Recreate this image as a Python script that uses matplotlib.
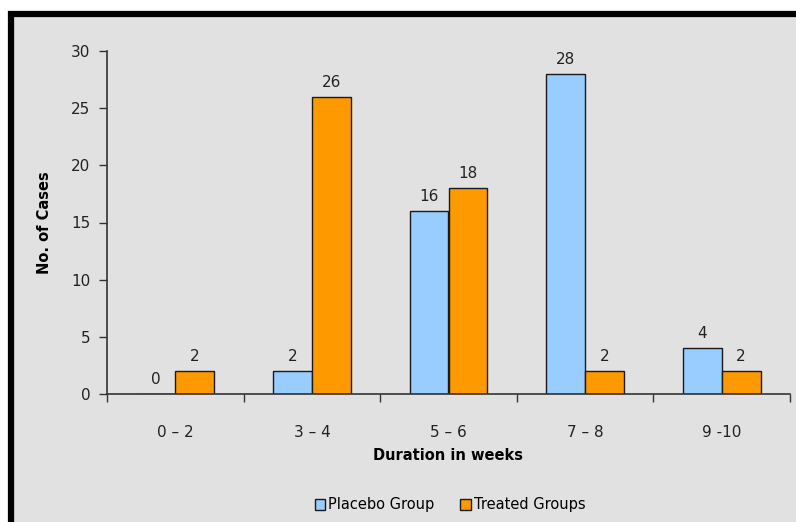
import numpy as np
from matplotlib import pyplot as plt
from matplotlib.patches import Rectangle

categories = ['0 \u2013 2', '3 \u2013 4', '5 \u2013 6', '7 \u2013 8', '9 -10']
placebo = [0, 2, 16, 28, 4]
treated = [2, 26, 18, 2, 2]

blue = '#99ccff'
orange = '#ff9900'
panel = '#e1e1e1'

fig = plt.figure(figsize=(7.96, 5.22), dpi=100, facecolor='white')
ax = fig.add_axes([107 / 796, 1 - 394 / 522, 683 / 796, 343 / 522])
ax.set_facecolor('none')

x = np.arange(len(categories))
w = 0.285
b1 = ax.bar(x - w / 2, placebo, w, color=blue, edgecolor='#1a1a1a', linewidth=1, label='Placebo Group')
b2 = ax.bar(x + w / 2, treated, w, color=orange, edgecolor='#1a1a1a', linewidth=1, label='Treated Groups')

for bars in (b1, b2):
    ax.bar_label(bars, padding=5, fontsize=11, color='#222222')

ax.set_xlim(-0.5, len(categories) - 0.5)
ax.set_ylim(0, 30)
ax.set_yticks(range(0, 31, 5))
ax.set_xticks(x)
ax.set_xticklabels(categories)
ax.set_xticks(np.arange(-0.5, len(categories)), minor=True)
ax.tick_params(axis='x', which='major', length=0, pad=22, labelsize=11, labelcolor='#222222')
ax.tick_params(axis='x', which='minor', length=6, width=1, color='#333333')
ax.tick_params(axis='y', length=6, width=1, color='#333333', labelsize=11, labelcolor='#222222', pad=6)

for s in ('top', 'right'):
    ax.spines[s].set_visible(False)
for s in ('left', 'bottom'):
    ax.spines[s].set_color('#333333')
    ax.spines[s].set_linewidth(1.2)

ax.set_xlabel('Duration in weeks', fontsize=10.5, fontweight='bold', labelpad=6)
ax.set_ylabel('No. of Cases', fontsize=10.5, fontweight='bold', labelpad=14)

fig.legend(loc='center', bbox_to_anchor=(450 / 796, 1 - 505 / 522), ncol=2, frameon=False,
           fontsize=10.5, handlelength=0.7, handleheight=0.7, handletextpad=0.2, columnspacing=1.8)

# outer chart frame; only its top and left edges fall inside the picture
frame = Rectangle((11 / 796, -0.2), 1.2, 1.2 - 14 / 522, transform=fig.transFigure,
                  facecolor=panel, edgecolor='black', linewidth=4.5, zorder=-1)
fig.patches.append(frame)

fig.savefig('out.png', dpi=100, facecolor=fig.get_facecolor())
